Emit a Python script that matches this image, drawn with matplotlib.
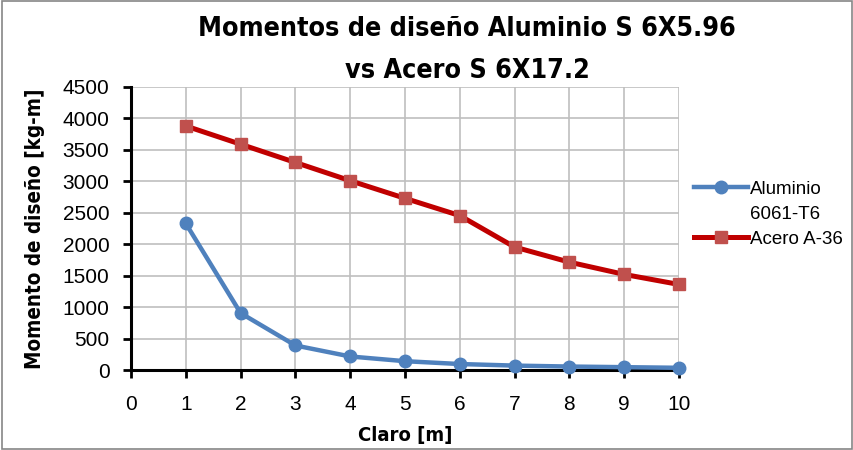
import matplotlib.pyplot as plt
from matplotlib.patches import Rectangle
from matplotlib.lines import Line2D

# datos
claro = [1, 2, 3, 4, 5, 6, 7, 8, 9, 10]
aluminio = [2330, 905, 390, 215, 140, 95, 70, 55, 45, 35]
acero = [3880, 3590, 3300, 3010, 2730, 2455, 1955, 1715, 1520, 1360]

x_ticks = list(range(0, 11))
y_ticks = list(range(0, 4501, 500))

titulo = ['Momentos de diseño Aluminio S 6X5.96', 'vs Acero S 6X17.2']

plt.rcParams['font.family'] = ['Liberation Sans', 'DejaVu Sans']

fig = plt.figure(figsize=(8.54, 4.5), dpi=100)
ax = fig.add_axes([131/854, 1 - 370/450, (679 - 131)/854, (370 - 87)/450])

l1, = ax.plot(claro, aluminio, color='#4F81BD', lw=3.2, marker='o', markersize=9, clip_on=False,
              markerfacecolor='#4F81BD', markeredgecolor='#4F81BD', zorder=3)
l2, = ax.plot(claro, acero, color='#C00000', lw=3.6, marker='s', markersize=9, clip_on=False,
              markerfacecolor='#C0504D', markeredgecolor='#C0504D', zorder=3)

ax.set_xlim(0, 10)
ax.set_ylim(0, 4500)
ax.set_xticks(x_ticks)
ax.set_yticks(y_ticks)
ax.grid(True, color='#BFBFBF', lw=1.2)
ax.set_axisbelow(True)
for s in ['top', 'right']:
    ax.spines[s].set_visible(False)
for s in ['left', 'bottom']:
    ax.spines[s].set_linewidth(2.2)
ax.tick_params(direction='out', length=6, width=2, labelsize=15)
ax.tick_params(axis='y', pad=9.5)
ax.tick_params(axis='x', pad=12)

cond = dict(family='DejaVu Sans', fontstretch='condensed', fontweight='bold')
ax.set_xlabel('Claro [m]', fontsize=14.5, labelpad=9, **cond)
ax.set_ylabel('Momento de diseño [kg-m]', fontsize=14.8, labelpad=13, **cond)
fig.text(467/854, 1 - 29/450, titulo[0], fontsize=19.3, ha='center', va='center', **cond)
fig.text(467/854, 1 - 71/450, titulo[1], fontsize=19.3, ha='center', va='center', **cond)

vacio = Line2D([], [], color='none')
leg = fig.legend([l1, vacio, l2], ['Aluminio', '6061-T6', 'Acero A-36'],
                 loc='center left', bbox_to_anchor=(694/854, 1 - 214/450), frameon=False,
                 fontsize=13.5, handlelength=2.9, handletextpad=0.1, labelspacing=0.42,
                 borderpad=0, borderaxespad=0)

fig.patches.append(Rectangle((0.002, 0.002), 0.996, 0.996, transform=fig.transFigure,
                             fill=False, edgecolor='#868686', lw=1.2))

fig.savefig('out.png', dpi=100)
